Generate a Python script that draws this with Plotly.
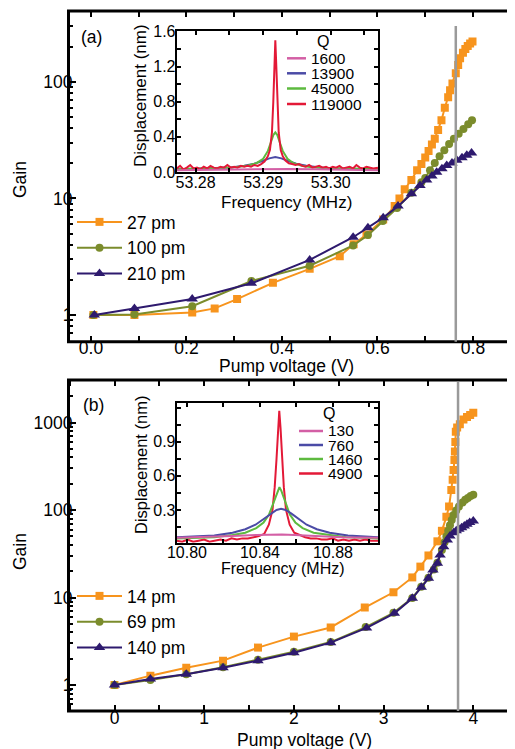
import plotly.graph_objects as go

# ---------------- data: panel (a) ----------------
volt_27 = [0.005, 0.091, 0.212, 0.259, 0.306, 0.381, 0.458, 0.521, 0.550, 0.577, 0.612, 0.636, 0.646,
           0.657, 0.671, 0.683, 0.692, 0.700, 0.707, 0.714, 0.720, 0.727, 0.734, 0.741, 0.748, 0.752,
           0.757, 0.764, 0.769, 0.773, 0.779, 0.784, 0.789, 0.794, 0.799]
gain_27 = [1.0, 1.0, 1.05, 1.14, 1.37, 1.89, 2.49, 3.2, 4.05, 4.9, 6.6, 8.6, 10.0,
           12.0, 14.4, 17.5, 19.8, 22.5, 25.5, 29.0, 32.5, 38.7, 47.0, 60.0, 74.0, 85.0,
           97.0, 119, 140, 160, 178, 192, 204, 214, 222]

volt_100 = [0.005, 0.091, 0.212, 0.336, 0.458, 0.549, 0.580, 0.611, 0.641, 0.671, 0.692, 0.700,
            0.710, 0.720, 0.730, 0.740, 0.750, 0.760, 0.770, 0.780, 0.790, 0.798]
gain_100 = [1.0, 1.01, 1.19, 1.96, 2.65, 3.95, 4.85, 6.4, 8.3, 11.2, 13.8, 15.0,
            17.5, 20.2, 23.0, 26.0, 29.3, 32.6, 36.0, 39.5, 43.3, 47.0]

volt_210 = [0.007, 0.091, 0.212, 0.336, 0.458, 0.549, 0.580, 0.612, 0.643, 0.671, 0.689, 0.703,
            0.714, 0.724, 0.735, 0.745, 0.756, 0.766, 0.777, 0.787, 0.797]
gain_210 = [1.0, 1.14, 1.37, 1.87, 2.97, 4.65, 5.6, 6.85, 8.6, 11.0, 12.9, 14.4,
            15.6, 16.8, 18.0, 19.2, 20.2, 21.3, 22.4, 23.5, 24.6]

threshold_a = 0.764

# ---------------- data: panel (b) ----------------
volt_14 = [0.0, 0.40, 0.80, 1.21, 1.60, 2.00, 2.41, 2.79, 3.11, 3.32, 3.41, 3.50, 3.60, 3.65,
           3.70, 3.73, 3.755, 3.77, 3.78, 3.79, 3.795, 3.80, 3.805, 3.82, 3.85, 3.89, 3.93,
           3.965, 4.0]
gain_14 = [1.0, 1.28, 1.58, 1.90, 2.68, 3.58, 4.55, 7.7, 11.5, 17.0, 22.6, 30.3, 44, 58,
           84, 110, 170, 222, 288, 375, 467, 600, 790, 880, 960, 1090, 1160,
           1220, 1300]

volt_69 = [0.0, 0.40, 0.80, 1.21, 1.60, 2.00, 2.41, 2.80, 3.11, 3.32, 3.42, 3.50, 3.56, 3.60,
           3.65, 3.68, 3.70, 3.72, 3.74, 3.76, 3.78, 3.81, 3.84, 3.88, 3.91, 3.94, 3.97, 4.0]
gain_69 = [1.0, 1.14, 1.33, 1.60, 1.95, 2.40, 3.1, 4.6, 6.7, 9.9, 13.3, 16.8, 21, 25,
           35, 43, 50, 58, 67, 77, 88, 99, 110, 122, 131, 138, 145, 150]

volt_140 = [0.0, 0.40, 0.80, 1.21, 1.60, 2.00, 2.41, 2.81, 3.12, 3.32, 3.42, 3.50, 3.55, 3.60,
            3.63, 3.67, 3.71, 3.74, 3.78, 3.81, 3.84, 3.87, 3.90, 3.93, 3.96, 4.0]
gain_140 = [1.0, 1.17, 1.33, 1.58, 1.90, 2.34, 3.05, 4.5, 6.6, 9.8, 13.1, 16.6, 20.7, 24.7,
            30.7, 38, 45.5, 50.7, 55.3, 58, 60.4, 63, 66, 69, 72, 75]

threshold_b = 3.83

# ---------------- data: inset (a) spectra ----------------
q_labels_a = ["1600", "13900", "45000", "119000"]

fa_red = [53.2772, 53.2777, 53.2782, 53.2787, 53.2792, 53.2797, 53.2802, 53.2807, 53.2812, 53.2817,
          53.2822, 53.2827, 53.2832, 53.2837, 53.2842, 53.2847, 53.2852, 53.2857, 53.2862, 53.2867,
          53.2872, 53.2877, 53.2882, 53.2887, 53.2892, 53.2897, 53.2902, 53.2907,
          53.2910, 53.2913, 53.2915, 53.2917, 53.2918, 53.2919, 53.2921, 53.2923, 53.2926, 53.2929,
          53.2933,
          53.2938, 53.2943, 53.2948, 53.2953, 53.2958, 53.2963, 53.2968, 53.2973, 53.2978, 53.2983,
          53.2988, 53.2993, 53.2998, 53.3003, 53.3008, 53.3013, 53.3018, 53.3023, 53.3028, 53.3033,
          53.3038, 53.3043, 53.3048, 53.3053, 53.3058, 53.3063, 53.3070]
da_red = [0.04, 0.07, 0.03, 0.05, 0.08, 0.04, 0.05, 0.03, 0.06, 0.04,
          0.07, 0.05, 0.04, 0.06, 0.05, 0.08, 0.05, 0.06, 0.05, 0.07,
          0.06, 0.07, 0.06, 0.08, 0.07, 0.09, 0.12, 0.18,
          0.25, 0.45, 0.80, 1.30, 1.50, 1.30, 0.80, 0.45, 0.25, 0.18,
          0.13,
          0.10, 0.09, 0.08, 0.09, 0.07, 0.06, 0.08, 0.05, 0.06, 0.07,
          0.05, 0.06, 0.04, 0.06, 0.05, 0.07, 0.04, 0.05, 0.06, 0.04,
          0.08, 0.05, 0.04, 0.06, 0.05, 0.04, 0.05]

fa_green = [53.2772, 53.2800, 53.2830, 53.2855, 53.2875, 53.2890, 53.2900, 53.2907, 53.2912, 53.2915,
            53.2918, 53.2921, 53.2924, 53.2929, 53.2936, 53.2945, 53.2957, 53.2972, 53.2992, 53.3015,
            53.3042, 53.3070]
da_green = [0.03, 0.035, 0.04, 0.05, 0.07, 0.10, 0.15, 0.24, 0.35, 0.42,
            0.45, 0.42, 0.35, 0.24, 0.15, 0.10, 0.07, 0.055, 0.045, 0.04,
            0.035, 0.03]

fa_blue = [53.2772, 53.2800, 53.2830, 53.2852, 53.2872, 53.2887, 53.2899, 53.2909, 53.2918, 53.2927,
           53.2937, 53.2949, 53.2964, 53.2984, 53.3005, 53.3030, 53.3070]
da_blue = [0.03, 0.035, 0.04, 0.05, 0.07, 0.095, 0.125, 0.155, 0.17, 0.155,
           0.125, 0.095, 0.07, 0.05, 0.04, 0.035, 0.03]

fa_pink = [53.2772, 53.2820, 53.2860, 53.2895, 53.2918, 53.2940, 53.2975, 53.3015, 53.3070]
da_pink = [0.02, 0.025, 0.03, 0.035, 0.04, 0.035, 0.03, 0.025, 0.02]

# ---------------- data: inset (b) spectra ----------------
q_labels_b = ["130", "760", "1460", "4900"]

fb_red = [10.7944, 10.7974, 10.8004, 10.8034, 10.8064, 10.8094, 10.8124, 10.8154, 10.8184, 10.8214,
          10.8244, 10.8274, 10.8304, 10.8334, 10.8364, 10.8394, 10.8424,
          10.8449, 10.8469, 10.8481, 10.8491, 10.8499, 10.8506, 10.8513, 10.8521, 10.8531, 10.8543,
          10.8563, 10.8588,
          10.8618, 10.8648, 10.8678, 10.8708, 10.8738, 10.8768, 10.8798, 10.8828, 10.8858, 10.8888,
          10.8918, 10.8948, 10.8978, 10.9008, 10.9047]
db_red = [0.03, 0.02, 0.04, 0.02, 0.03, 0.04, 0.02, 0.03, 0.04, 0.03,
          0.05, 0.04, 0.05, 0.05, 0.06, 0.07, 0.09,
          0.17, 0.30, 0.50, 0.75, 1.02, 1.17, 1.02, 0.75, 0.50, 0.30,
          0.17, 0.10,
          0.08, 0.06, 0.05, 0.05, 0.04, 0.04, 0.05, 0.03, 0.04, 0.03,
          0.04, 0.03, 0.04, 0.03, 0.03]

fb_green = [10.7944, 10.8050, 10.8150, 10.8250, 10.8320, 10.8380, 10.8420, 10.8450, 10.8478, 10.8497,
            10.8507, 10.8517, 10.8536, 10.8564, 10.8594, 10.8634, 10.8694, 10.8774, 10.8874, 10.8974,
            10.9047]
db_green = [0.05, 0.055, 0.06, 0.08, 0.10, 0.14, 0.19, 0.26, 0.38, 0.47,
            0.50, 0.47, 0.38, 0.26, 0.19, 0.14, 0.10, 0.08, 0.06, 0.055,
            0.05]

fb_blue = [10.7944, 10.8050, 10.8150, 10.8250, 10.8320, 10.8376, 10.8421, 10.8461, 10.8491, 10.8516,
           10.8541, 10.8571, 10.8611, 10.8656, 10.8712, 10.8782, 10.8882, 10.8982, 10.9047]
db_blue = [0.06, 0.065, 0.075, 0.10, 0.13, 0.17, 0.22, 0.27, 0.30, 0.31,
           0.30, 0.27, 0.22, 0.17, 0.13, 0.10, 0.075, 0.065, 0.06]

fb_pink = [10.7944, 10.8100, 10.8250, 10.8380, 10.8460, 10.8520, 10.8590, 10.8700, 10.8850, 10.9047]
db_pink = [0.055, 0.06, 0.07, 0.08, 0.085, 0.085, 0.08, 0.07, 0.06, 0.055]

# ---------------- tick labels ----------------
xa_ticks = [0.0, 0.2, 0.4, 0.6, 0.8]
xa_text = ["0.0", "0.2", "0.4", "0.6", "0.8"]
xa_minor = [0.1, 0.3, 0.5, 0.7]
ya_ticks = [1, 10, 100]
ya_text = ["1", "10", "100"]
ya_minor = [0.6, 0.7, 0.8, 0.9, 2, 3, 4, 5, 6, 7, 8, 9, 20, 30, 40, 50, 60, 70, 80, 90, 200, 300, 400]

xb_ticks = [0, 1, 2, 3, 4]
xb_text = ["0", "1", "2", "3", "4"]
xb_minor = [-0.5, 0.5, 1.5, 2.5, 3.5]
yb_ticks = [1, 10, 100, 1000]
yb_text = ["1", "10", "100", "1000"]
yb_minor = [0.6, 0.7, 0.8, 0.9, 2, 3, 4, 5, 6, 7, 8, 9, 20, 30, 40, 50, 60, 70, 80, 90,
            200, 300, 400, 500, 600, 700, 800, 900, 2000, 3000]

xia_ticks = [53.28, 53.29, 53.30]
xia_text = ["53.28", "53.29", "53.30"]
xia_minor = [53.285, 53.295, 53.305]
yia_ticks = [0.0, 0.4, 0.8, 1.2, 1.6]
yia_text = ["0.0", "0.4", "0.8", "1.2", "1.6"]
yia_minor = [0.2, 0.6, 1.0, 1.4]

xib_ticks = [10.80, 10.84, 10.88]
xib_text = ["10.80", "10.84", "10.88"]
xib_minor = [10.82, 10.86, 10.90]
yib_ticks = [0.3, 0.6, 0.9]
yib_text = ["0.3", "0.6", "0.9"]
yib_minor = [0.15, 0.45, 0.75, 1.05, 1.2]

# ---------------- styling ----------------
# the page body keeps an 8 px margin, so the figure is drawn 8 px in from the window corner
OFF = 8
W, H = 515 - OFF, 749 - OFF
FONT = "Liberation Sans, Arial, sans-serif"
ORANGE = "#F7941D"
OLIVE = "#7B8C2C"
PURPLE = "#2E1A6E"
PINK = "#D35FA5"
BLUE = "#4B4BA6"
GREEN = "#5DBA3F"
RED = "#E31937"


def X(p):
    return (p - OFF) / W


def Y(p):
    return 1 - (p - OFF) / H


fig = go.Figure()

# main (a)
for vx, vy, name, col, sym, sz in [
    (volt_27, gain_27, "27 pm", ORANGE, "square", 8),
    (volt_100, gain_100, "100 pm", OLIVE, "circle", 8),
    (volt_210, gain_210, "210 pm", PURPLE, "triangle-up", 10),
]:
    fig.add_trace(go.Scatter(x=vx, y=vy, name=name, mode="lines+markers",
                             line=dict(color=col, width=2),
                             marker=dict(symbol=sym, size=sz, color=col),
                             xaxis="x", yaxis="y", legend="legend"))

# main (b)
for vx, vy, name, col, sym, sz in [
    (volt_14, gain_14, "14 pm", ORANGE, "square", 8),
    (volt_69, gain_69, "69 pm", OLIVE, "circle", 8),
    (volt_140, gain_140, "140 pm", PURPLE, "triangle-up", 10),
]:
    fig.add_trace(go.Scatter(x=vx, y=vy, name=name, mode="lines+markers",
                             line=dict(color=col, width=2),
                             marker=dict(symbol=sym, size=sz, color=col),
                             xaxis="x2", yaxis="y2", legend="legend2"))

# inset (a)
for fx, dy, col in [(fa_blue, da_blue, BLUE), (fa_green, da_green, GREEN),
                    (fa_red, da_red, RED), (fa_pink, da_pink, PINK)]:
    fig.add_trace(go.Scatter(x=fx, y=dy, mode="lines", line=dict(color=col, width=2),
                             showlegend=False, xaxis="x3", yaxis="y3"))

# inset (b)
for fx, dy, col in [(fb_red, db_red, RED), (fb_green, db_green, GREEN),
                    (fb_blue, db_blue, BLUE), (fb_pink, db_pink, PINK)]:
    fig.add_trace(go.Scatter(x=fx, y=dy, mode="lines", line=dict(color=col, width=2),
                             showlegend=False, xaxis="x4", yaxis="y4"))

tickfont_main = dict(family=FONT, size=17.5, color="black")
tickfont_inset = dict(family=FONT, size=16, color="black")


def main_axis(**kw):
    d = dict(ticks="inside", tickwidth=2, tickcolor="black", showline=False, mirror="ticks",
             showgrid=False, zeroline=False, tickfont=tickfont_main, tickmode="array",
             automargin=False)
    d.update(kw)
    return d


def inset_axis(**kw):
    d = dict(ticks="inside", ticklen=4, tickwidth=1.5, tickcolor="black", showline=True,
             linewidth=2, linecolor="black", mirror="ticks", showgrid=False, zeroline=False,
             tickfont=tickfont_inset, tickmode="array", automargin=False)
    d.update(kw)
    return d


dom_x_main = [X(68.5), 1.0]
dom_y_a = [Y(341.7), Y(11)]
dom_y_b = [Y(711), Y(380)]

fig.update_layout(
    template="none",
    width=W, height=H,
    margin=dict(l=0, r=0, t=0, b=0, pad=0, autoexpand=False),
    paper_bgcolor="white", plot_bgcolor="white",
    font=dict(family=FONT, size=17.5, color="black"),
    xaxis=main_axis(domain=dom_x_main, anchor="y", range=[-0.0471, 0.888],
                    tickvals=xa_ticks, ticktext=xa_text, ticklen=6, ticklabelstandoff=-6,
                    minor=dict(tickvals=xa_minor, ticks="inside", ticklen=6, tickwidth=2,
                               tickcolor="black")),
    yaxis=main_axis(domain=dom_y_a, anchor="x", type="log", range=[-0.229, 2.609],
                    tickvals=ya_ticks, ticktext=ya_text, ticklen=7, ticklabelstandoff=-5,
                    minor=dict(tickvals=ya_minor, ticks="inside", ticklen=4, tickwidth=1.5,
                               tickcolor="black")),
    xaxis2=main_axis(domain=dom_x_main, anchor="y2", range=[-0.513, 4.465],
                     tickvals=xb_ticks, ticktext=xb_text, ticklen=6, ticklabelstandoff=-6,
                     minor=dict(tickvals=xb_minor, ticks="inside", ticklen=6, tickwidth=2,
                                tickcolor="black")),
    yaxis2=main_axis(domain=dom_y_b, anchor="x2", type="log", range=[-0.297, 3.488],
                     tickvals=yb_ticks, ticktext=yb_text, ticklen=7, ticklabelstandoff=-5,
                     minor=dict(tickvals=yb_minor, ticks="inside", ticklen=4, tickwidth=1.5,
                                tickcolor="black")),
    xaxis3=inset_axis(domain=[X(176.7), X(378)], anchor="y3", range=[53.2772, 53.3070],
                      tickvals=xia_ticks, ticktext=xia_text, ticklabelstandoff=-5,
                      minor=dict(tickvals=xia_minor, ticks="inside", ticklen=4, tickwidth=1.5,
                                 tickcolor="black")),
    yaxis3=inset_axis(domain=[Y(172), Y(30.5)], anchor="x3", range=[0, 1.61],
                      tickvals=yia_ticks, ticktext=yia_text, ticklabelstandoff=-4,
                      minor=dict(tickvals=yia_minor, ticks="inside", ticklen=4, tickwidth=1.5,
                                 tickcolor="black")),
    xaxis4=inset_axis(domain=[X(176.7), X(378)], anchor="y4", range=[10.7944, 10.9047],
                      tickvals=xib_ticks, ticktext=xib_text, ticklabelstandoff=-6,
                      minor=dict(tickvals=xib_minor, ticks="inside", ticklen=4, tickwidth=1.5,
                                 tickcolor="black")),
    yaxis4=inset_axis(domain=[Y(542.7), Y(403.3)], anchor="x4", range=[0.012, 1.237],
                      tickvals=yib_ticks, ticktext=yib_text, ticklabelstandoff=-4,
                      minor=dict(tickvals=yib_minor, ticks="inside", ticklen=4, tickwidth=1.5,
                                 tickcolor="black")),
    legend=dict(x=X(72), y=Y(204), xanchor="left", yanchor="top", bgcolor="rgba(0,0,0,0)",
                font=dict(family=FONT, size=17.5, color="black"), itemwidth=45,
                traceorder="normal", tracegroupgap=0, borderwidth=0),
    legend2=dict(x=X(72), y=Y(578), xanchor="left", yanchor="top", bgcolor="rgba(0,0,0,0)",
                 font=dict(family=FONT, size=17.5, color="black"), itemwidth=45,
                 traceorder="normal", tracegroupgap=0, borderwidth=0),
)

shapes = [
    # main frames
    dict(type="rect", xref="x domain", yref="y domain", x0=0, x1=1.02, y0=0, y1=1,
         line=dict(color="black", width=3)),
    dict(type="rect", xref="x2 domain", yref="y2 domain", x0=0, x1=1.02, y0=0, y1=1,
         line=dict(color="black", width=3)),
    # threshold lines
    dict(type="line", xref="x", yref="y domain", x0=threshold_a, x1=threshold_a, y0=0, y1=0.955,
         line=dict(color="#9A9A9A", width=2.5)),
    dict(type="line", xref="x2", yref="y2 domain", x0=threshold_b, x1=threshold_b, y0=0, y1=0.995,
         line=dict(color="#9A9A9A", width=2.5)),
]

# inset legend samples
leg_y_a = [58.3, 73.3, 88.5, 104]
leg_y_b = [431, 445, 459, 473.5]
for i, col in enumerate([PINK, BLUE, GREEN, RED]):
    shapes.append(dict(type="line", xref="paper", yref="paper", x0=X(287), x1=X(306),
                       y0=Y(leg_y_a[i]), y1=Y(leg_y_a[i]), line=dict(color=col, width=2.5)))
    shapes.append(dict(type="line", xref="paper", yref="paper", x0=X(299), x1=X(323),
                       y0=Y(leg_y_b[i]), y1=Y(leg_y_b[i]), line=dict(color=col, width=2.5)))
fig.update_layout(shapes=shapes)

ann = []


def add_text(text, x, y, size=17.5, angle=0, xanchor="center"):
    ann.append(dict(text=text, x=X(x), y=Y(y), xref="paper", yref="paper", showarrow=False,
                    textangle=angle, xanchor=xanchor, yanchor="middle",
                    font=dict(family=FONT, size=size, color="black")))


add_text("Gain", 20, 180, angle=-90)
add_text("Gain", 20, 552, angle=-90)
add_text("Pump voltage (V)", 286, 366)
add_text("Pump voltage (V)", 304, 740)
add_text("(a)", 91, 37.5)
add_text("(b)", 93, 405)
add_text("Displacement (nm)", 140, 96, size=17, angle=-90)
add_text("Displacement (nm)", 141, 465, size=16.5, angle=-90)
add_text("Frequency (MHz)", 286, 202, size=17)
add_text("Frequency (MHz)", 283, 568, size=16)
add_text("Q", 322.5, 42, size=16)
add_text("Q", 329, 414, size=16)
for i, t in enumerate(q_labels_a):
    add_text(t, 309, leg_y_a[i], size=15.5, xanchor="left")
for i, t in enumerate(q_labels_b):
    add_text(t, 326, leg_y_b[i], size=15.5, xanchor="left")
fig.update_layout(annotations=ann)

assert len(fa_red) == len(da_red) and len(fb_red) == len(db_red)
assert len(fa_green) == len(da_green) and len(fb_green) == len(db_green)
assert len(fa_blue) == len(da_blue) and len(fb_blue) == len(db_blue)
assert len(volt_27) == len(gain_27) and len(volt_100) == len(gain_100) and len(volt_210) == len(gain_210)
assert len(volt_14) == len(gain_14) and len(volt_69) == len(gain_69) and len(volt_140) == len(gain_140)

fig.write_html("out.html")
